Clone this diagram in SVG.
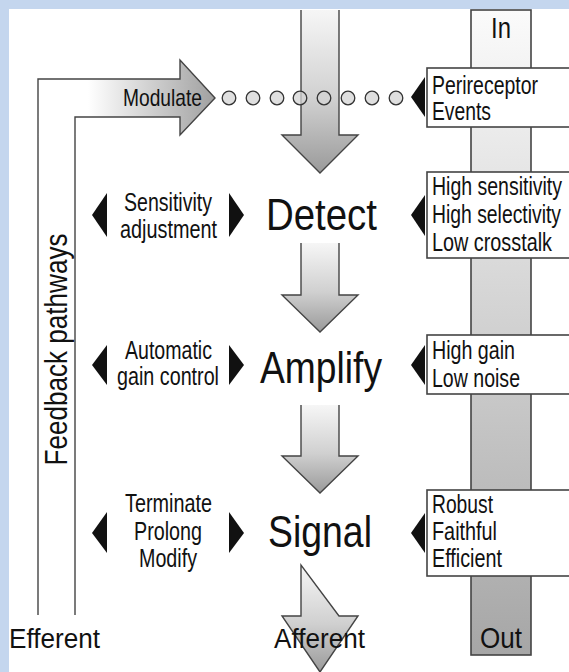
<svg xmlns="http://www.w3.org/2000/svg" width="569" height="672" viewBox="0 0 569 672">
<defs>
<linearGradient id="gv" x1="0" y1="0" x2="0" y2="1">
<stop offset="0" stop-color="#f6f6f6"/>
<stop offset="0.55" stop-color="#d0d0d0"/>
<stop offset="1" stop-color="#9a9a9a"/>
</linearGradient>
<linearGradient id="gh" gradientUnits="userSpaceOnUse" x1="88" y1="0" x2="215" y2="0">
<stop offset="0" stop-color="#ffffff"/>
<stop offset="1" stop-color="#a0a0a0"/>
</linearGradient>
<linearGradient id="gbar" x1="0" y1="0" x2="0" y2="1">
<stop offset="0" stop-color="#fbfbfb"/>
<stop offset="1" stop-color="#a6a6a6"/>
</linearGradient>
</defs>
<style>
.t{font-family:"Liberation Sans",Arial,sans-serif;fill:#111}
.s{font-size:25.5px}
.m{font-size:44px}
.l{font-size:28.5px}
.c{text-anchor:middle}
.box{fill:#fff;stroke:#444;stroke-width:1.6}
.tri{fill:#111}
.arr{stroke:#444;stroke-width:1.4;fill:url(#gv)}
.dot{fill:#d4d4d4;fill-opacity:0.75;stroke:#333;stroke-width:1.3}
</style>
<rect x="0" y="0" width="569" height="672" fill="#c4d6ee"/>
<rect x="9" y="9" width="560" height="663" fill="#ffffff"/>

<g id="bar">
<rect x="471" y="10" width="60" height="645" fill="url(#gbar)" stroke="#444" stroke-width="1.6"/>
<text class="t c" transform="translate(501,38) scale(0.83,1)" font-size="29" textLength="24" lengthAdjust="spacingAndGlyphs">In</text>
<text class="t c" transform="translate(501,648) scale(0.9,1)" font-size="29" textLength="46.7" lengthAdjust="spacingAndGlyphs">Out</text>
</g>

<g id="connectors">
<path id="feedback" d="M38,615 V79 H180 V60 L215,98 L180,135 V117 H75 V615" fill="url(#gh)" stroke="#444" stroke-width="1.4"/>
<path class="arr" d="M301,10 V135 H282 L320,173 L358,135 H339 V10"/>
<path class="arr" d="M301,243 V295 H282 L320,332 L358,295 H339 V243"/>
<path class="arr" d="M301,405 V456 H282 L320,493 L358,456 H339 V405"/>
<path class="arr" d="M301,565 V616 H282 L320,672 L358,616 H339 Z"/>
<g id="dots">
<circle class="dot" cx="229" cy="98" r="6.8"/>
<circle class="dot" cx="253" cy="98" r="6.8"/>
<circle class="dot" cx="277" cy="98" r="6.8"/>
<circle class="dot" cx="300" cy="98" r="6.8"/>
<circle class="dot" cx="324" cy="98" r="6.8"/>
<circle class="dot" cx="348" cy="98" r="6.8"/>
<circle class="dot" cx="372" cy="98" r="6.8"/>
<circle class="dot" cx="396" cy="98" r="6.8"/>
</g>
</g>

<g id="feedback-labels">
<text class="t" transform="translate(123,106) scale(0.8,1)" font-size="24" textLength="98.75" lengthAdjust="spacingAndGlyphs">Modulate</text>
<text class="t c" transform="translate(66.5,349.5) rotate(-90) scale(0.82,1)" font-size="32" textLength="283" lengthAdjust="spacingAndGlyphs">Feedback pathways</text>
<text class="t l" transform="translate(9,648) scale(0.9,1)" textLength="101.1" lengthAdjust="spacingAndGlyphs">Efferent</text>
<text class="t l" transform="translate(274,648) scale(0.9,1)" textLength="101.1" lengthAdjust="spacingAndGlyphs">Afferent</text>
</g>

<g id="box-perireceptor">
<rect class="box" x="427" y="68" width="150" height="59"/>
<path class="tri" d="M411,97 L425,77 L425,117 Z"/>
<text class="t s" transform="translate(432,94) scale(0.8,1)" textLength="132.5" lengthAdjust="spacingAndGlyphs">Perireceptor</text>
<text class="t s" transform="translate(432,120) scale(0.8,1)" textLength="73.75" lengthAdjust="spacingAndGlyphs">Events</text>
</g>

<g id="detect">
<path class="tri" d="M92,215 L107,193 L107,237 Z"/>
<path class="tri" d="M244,215 L229,193 L229,237 Z"/>
<text class="t s c" transform="translate(168,211) scale(0.8,1)" textLength="110" lengthAdjust="spacingAndGlyphs">Sensitivity</text>
<text class="t s c" transform="translate(168.5,238) scale(0.8,1)" textLength="121.25" lengthAdjust="spacingAndGlyphs">adjustment</text>
<text class="t m c" transform="translate(321.5,230) scale(0.87,1)" textLength="127.6" lengthAdjust="spacingAndGlyphs">Detect</text>
</g>

<g id="box-detect">
<rect class="box" x="427" y="172" width="150" height="86"/>
<path class="tri" d="M411,215 L425,195 L425,236 Z"/>
<text class="t s" transform="translate(432,195) scale(0.8,1)" textLength="162.5" lengthAdjust="spacingAndGlyphs">High sensitivity</text>
<text class="t s" transform="translate(432,223) scale(0.8,1)" textLength="161.25" lengthAdjust="spacingAndGlyphs">High selectivity</text>
<text class="t s" transform="translate(432,251) scale(0.8,1)" textLength="150" lengthAdjust="spacingAndGlyphs">Low crosstalk</text>
</g>

<g id="amplify">
<path class="tri" d="M92,365 L107,345 L107,385 Z"/>
<path class="tri" d="M244,365 L229,345 L229,385 Z"/>
<text class="t s c" transform="translate(168.5,359) scale(0.8,1)" textLength="108.75" lengthAdjust="spacingAndGlyphs">Automatic</text>
<text class="t s c" transform="translate(168,385) scale(0.8,1)" textLength="127.5" lengthAdjust="spacingAndGlyphs">gain control</text>
<text class="t m c" transform="translate(321,383) scale(0.87,1)" textLength="140.2" lengthAdjust="spacingAndGlyphs">Amplify</text>
</g>

<g id="box-amplify">
<rect class="box" x="427" y="335" width="150" height="59"/>
<path class="tri" d="M411,365 L425,345 L425,385 Z"/>
<text class="t s" transform="translate(432,359) scale(0.8,1)" textLength="103.75" lengthAdjust="spacingAndGlyphs">High gain</text>
<text class="t s" transform="translate(432,387) scale(0.8,1)" textLength="110" lengthAdjust="spacingAndGlyphs">Low noise</text>
</g>

<g id="signal">
<path class="tri" d="M92,533 L107,512 L107,553 Z"/>
<path class="tri" d="M244,533 L229,512 L229,553 Z"/>
<text class="t s c" transform="translate(168.5,512) scale(0.8,1)" textLength="108.75" lengthAdjust="spacingAndGlyphs">Terminate</text>
<text class="t s c" transform="translate(168,540) scale(0.8,1)" textLength="85" lengthAdjust="spacingAndGlyphs">Prolong</text>
<text class="t s c" transform="translate(168,567) scale(0.8,1)" textLength="72.5" lengthAdjust="spacingAndGlyphs">Modify</text>
<text class="t m c" transform="translate(320,547) scale(0.87,1)" textLength="119.5" lengthAdjust="spacingAndGlyphs">Signal</text>
</g>

<g id="box-signal">
<rect class="box" x="427" y="490" width="150" height="86"/>
<path class="tri" d="M411,533 L425,513 L425,553 Z"/>
<text class="t s" transform="translate(432,513) scale(0.8,1)" textLength="76.25" lengthAdjust="spacingAndGlyphs">Robust</text>
<text class="t s" transform="translate(432,540) scale(0.8,1)" textLength="81.25" lengthAdjust="spacingAndGlyphs">Faithful</text>
<text class="t s" transform="translate(432,567) scale(0.8,1)" textLength="87.5" lengthAdjust="spacingAndGlyphs">Efficient</text>
</g>
</svg>
